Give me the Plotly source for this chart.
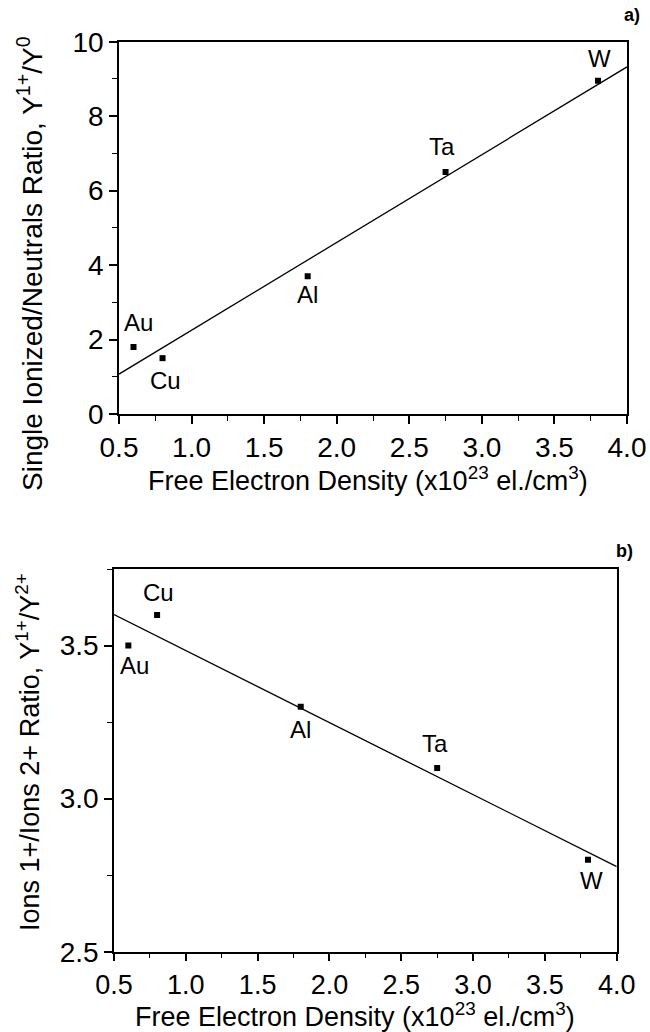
import numpy as np
import plotly.graph_objects as go

# ---- data ----
elements = ["Au", "Cu", "Al", "Ta", "W"]
density = [0.6, 0.8, 1.8, 2.75, 3.8]          # x10^23 el./cm^3
ratio_1p_0 = [1.8, 1.5, 3.7, 6.5, 8.95]        # Y1+/Y0
ratio_1p_2p = [3.5, 3.6, 3.3, 3.1, 2.8]        # Y1+/Y2+

x_ticks = [0.5, 1.0, 1.5, 2.0, 2.5, 3.0, 3.5, 4.0]
ya_ticks = [0, 2, 4, 6, 8, 10]
yb_ticks = [2.5, 3.0, 3.5]

# label offsets (pixels) for element names
offs_a = {"Au": (5, 24), "Cu": (3, -22), "Al": (0, -18), "Ta": (-4, 26), "W": (2, 22)}
offs_b = {"Au": (6, -20), "Cu": (1, 22), "Al": (0, -23), "Ta": (-2, 25), "W": (4, -21)}

W_, H_ = 650, 1032
FONT = "Liberation Sans, Arial, sans-serif"

def px_x(p):
    return p / W_

def px_y(p):
    return 1 - p / H_

fig = go.Figure()

xa = np.array(density)
# top panel
fig.add_trace(go.Scatter(x=density, y=ratio_1p_0, mode="markers",
                         marker=dict(symbol="square", size=6, color="black"),
                         xaxis="x", yaxis="y", showlegend=False))
ka, ba = np.polyfit(xa, np.array(ratio_1p_0), 1)
xl = np.array([0.5, 4.0])
fig.add_trace(go.Scatter(x=xl, y=ka * xl + ba, mode="lines",
                         line=dict(color="black", width=1.3),
                         xaxis="x", yaxis="y", showlegend=False))
# bottom panel
fig.add_trace(go.Scatter(x=density, y=ratio_1p_2p, mode="markers",
                         marker=dict(symbol="square", size=6, color="black"),
                         xaxis="x2", yaxis="y2", showlegend=False))
kb, bb = np.polyfit(xa, np.array(ratio_1p_2p), 1)
fig.add_trace(go.Scatter(x=xl, y=kb * xl + bb, mode="lines",
                         line=dict(color="black", width=1.3),
                         xaxis="x2", yaxis="y2", showlegend=False))

ann = []
for el, x, y in zip(elements, density, ratio_1p_0):
    dx, dy = offs_a[el]
    ann.append(dict(x=x, y=y, xref="x", yref="y", text=el, showarrow=False,
                    xanchor="center", yanchor="middle",
                    xshift=dx, yshift=dy, font=dict(size=24, color="black", family=FONT)))
for el, x, y in zip(elements, density, ratio_1p_2p):
    dx, dy = offs_b[el]
    ann.append(dict(x=x, y=y, xref="x2", yref="y2", text=el, showarrow=False,
                    xanchor="center", yanchor="middle",
                    xshift=dx, yshift=dy, font=dict(size=24, color="black", family=FONT)))

xtitle = "Free Electron Density (x10<sup>23</sup> el./cm<sup>3</sup>)"
paper_ann = [
    dict(x=px_x(368), y=px_y(479), text=xtitle,
         font=dict(size=27, color="black", family=FONT)),
    dict(x=px_x(355), y=px_y(1015), text=xtitle,
         font=dict(size=27, color="black", family=FONT)),
    dict(x=px_x(30), y=px_y(264),
         text="Single Ionized/Neutrals Ratio, Y<sup>1+</sup>/Y<sup>0</sup>",
         textangle=-90, font=dict(size=28, color="black", family=FONT)),
    dict(x=px_x(28), y=px_y(752),
         text="Ions 1+/Ions 2+ Ratio, Y<sup>1+</sup>/Y<sup>2+</sup>",
         textangle=-90, font=dict(size=27, color="black", family=FONT)),
    dict(x=px_x(632), y=px_y(15), text="<b>a)</b>",
         font=dict(size=18, color="black", family=FONT)),
    dict(x=px_x(624), y=px_y(551), text="<b>b)</b>",
         font=dict(size=18, color="black", family=FONT)),
]
for a in paper_ann:
    a.update(xref="paper", yref="paper", showarrow=False,
             xanchor="center", yanchor="middle")
    ann.append(a)

axis_common = dict(showline=True, linecolor="black", linewidth=1.5, mirror=True,
                   ticks="outside", ticklen=8, tickwidth=1.5, tickcolor="black",
                   showgrid=False, zeroline=False, automargin=False)
tf28 = dict(size=28, color="black", family=FONT)
tf27 = dict(size=27, color="black", family=FONT)

fig.update_layout(
    template="none",
    width=W_, height=H_,
    margin=dict(l=0, r=0, t=0, b=0, pad=0, autoexpand=False),
    paper_bgcolor="white", plot_bgcolor="white",
    font=dict(family=FONT, color="black"),
    xaxis=dict(domain=[px_x(119), px_x(627)], range=[0.5, 4.0], anchor="y",
               tickvals=x_ticks, ticktext=[f"{v:.1f}" for v in x_ticks], tickfont=tf28,
               minor=dict(dtick=0.25, tick0=0.25, ticks="outside", ticklen=5, tickcolor="black", tickwidth=1.2),
               **axis_common),
    yaxis=dict(domain=[px_y(414), px_y(41.7)], range=[0, 10], anchor="x",
               tickvals=ya_ticks, tickfont=tf28,
               minor=dict(dtick=1, tick0=0, ticks="outside", ticklen=5, tickcolor="black", tickwidth=1.2),
               **axis_common),
    xaxis2=dict(domain=[px_x(114), px_x(616.7)], range=[0.5, 4.0], anchor="y2",
                tickvals=x_ticks, ticktext=[f"{v:.1f}" for v in x_ticks], tickfont=tf27,
                minor=dict(dtick=0.25, tick0=0.25, ticks="outside", ticklen=5, tickcolor="black", tickwidth=1.2),
                **axis_common),
    yaxis2=dict(domain=[px_y(951.7), px_y(569)], range=[2.5, 3.75], anchor="x2",
                tickvals=yb_ticks, ticktext=[f"{v:.1f}" for v in yb_ticks], tickfont=tf28,
                minor=dict(dtick=0.25, tick0=0.25, ticks="outside", ticklen=5, tickcolor="black", tickwidth=1.2),
                **axis_common),
    annotations=ann,
)

fig.write_html("out.html")
